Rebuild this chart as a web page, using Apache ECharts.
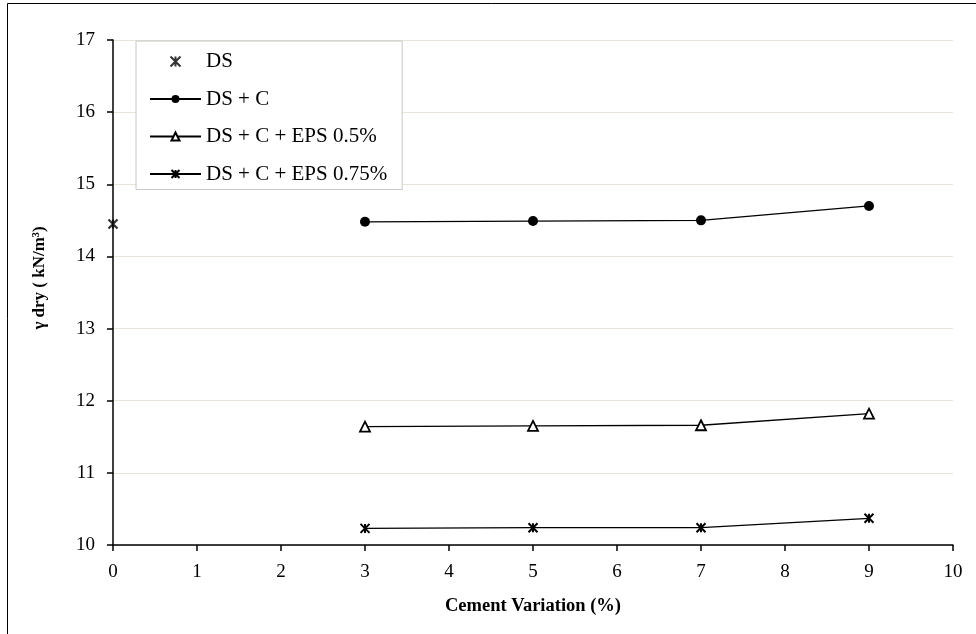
<!DOCTYPE html>
<html>
<head>
<meta charset="utf-8">
<script src="https://cdn.jsdelivr.net/npm/echarts@6/dist/echarts.min.js"></script>
<style>html,body{margin:0;padding:0;background:#fff}#c{width:976px;height:634px}</style>
</head>
<body>
<div id="c"></div>
<script>
const xTicks = [0,1,2,3,4,5,6,7,8,9,10];
const cement = [3, 5, 7, 9];
const dsX = [0];
const dsY = [14.45];
const dsC = [14.48, 14.49, 14.50, 14.70];
const dsCEps05 = [11.64, 11.65, 11.66, 11.82];
const dsCEps075 = [10.23, 10.24, 10.24, 10.37];
const names = ['DS', 'DS + C', 'DS + C + EPS 0.5%', 'DS + C + EPS 0.75%'];
const yTitle = 'γ dry ( kN/m³)';
const xTitle = 'Cement Variation (%)';

const starPath = 'path://M0,0L10,10M10,0L0,10M5,0L5,10';
const font = '"Liberation Serif","Times New Roman",serif';

const pairs = (xs, ys) => xs.map((x, i) => [x, ys[i]]);

const chart = echarts.init(document.getElementById('c'), null, {renderer: 'canvas'});
chart.setOption({
  animation: false,
  backgroundColor: '#fff',
  textStyle: {fontFamily: font, color: '#000'},
  graphic: [
    {type: 'line', shape: {x1: 7.5, y1: 3.5, x2: 976, y2: 3.5}, style: {stroke: '#000', lineWidth: 1}, silent: true},
    {type: 'line', shape: {x1: 7.5, y1: 3.5, x2: 7.5, y2: 634}, style: {stroke: '#000', lineWidth: 1}, silent: true},
    {type: 'text', x: 40, y: 278, rotation: Math.PI / 2, silent: true,
     style: {text: yTitle, fontFamily: font, fontWeight: 'bold', fontSize: 17, fill: '#000', align: 'center', verticalAlign: 'middle'}}
  ],
  grid: {left: 113, right: 23, top: 40, bottom: 89, containLabel: false},
  xAxis: {
    type: 'value', min: 0, max: 10, interval: 1,
    name: xTitle, nameLocation: 'middle', nameGap: 52,
    nameTextStyle: {fontFamily: font, fontWeight: 'bold', fontSize: 18.5, color: '#000'},
    axisLine: {show: true, lineStyle: {color: '#000', width: 1.5}},
    axisTick: {show: true, length: 6, lineStyle: {color: '#000', width: 1.5}},
    axisLabel: {fontFamily: font, fontSize: 19, color: '#000', margin: 18},
    splitLine: {show: false}
  },
  yAxis: {
    type: 'value', min: 10, max: 17, interval: 1,
    axisLine: {show: true, lineStyle: {color: '#000', width: 1.5}},
    axisTick: {show: true, length: 6, lineStyle: {color: '#000', width: 1.5}},
    axisLabel: {fontFamily: font, fontSize: 19, color: '#000', margin: 18},
    splitLine: {show: true, lineStyle: {color: '#e8e4d6', width: 1}}
  },
  legend: {
    orient: 'vertical', left: 136, top: 41,
    padding: [10, 15, 5, 13], itemGap: 16.5, itemWidth: 51, itemHeight: 10,
    backgroundColor: '#fff', borderColor: '#c8c8c8', borderWidth: 1,
    textStyle: {fontFamily: font, fontSize: 21, color: '#000'},
    data: names
  },
  series: [
    {
      name: names[0], type: 'scatter', data: pairs(dsX, dsY),
      symbol: starPath, symbolSize: 9,
      itemStyle: {color: 'none', borderColor: '#000', borderWidth: 2.2}
    },
    {
      name: names[1], type: 'line', data: pairs(cement, dsC),
      symbol: 'circle', symbolSize: 10, showAllSymbol: true,
      lineStyle: {color: '#000', width: 1.3},
      itemStyle: {color: '#000', borderColor: '#000', borderWidth: 0}
    },
    {
      name: names[2], type: 'line', data: pairs(cement, dsCEps05),
      symbol: 'triangle', symbolSize: 10, showAllSymbol: true,
      lineStyle: {color: '#000', width: 1.3},
      itemStyle: {color: '#fff', borderColor: '#000', borderWidth: 1.8}
    },
    {
      name: names[3], type: 'line', data: pairs(cement, dsCEps075),
      symbol: starPath, symbolSize: 9, showAllSymbol: true,
      lineStyle: {color: '#000', width: 1.3},
      itemStyle: {color: 'none', borderColor: '#000', borderWidth: 2}
    }
  ]
});
</script>
</body>
</html>
